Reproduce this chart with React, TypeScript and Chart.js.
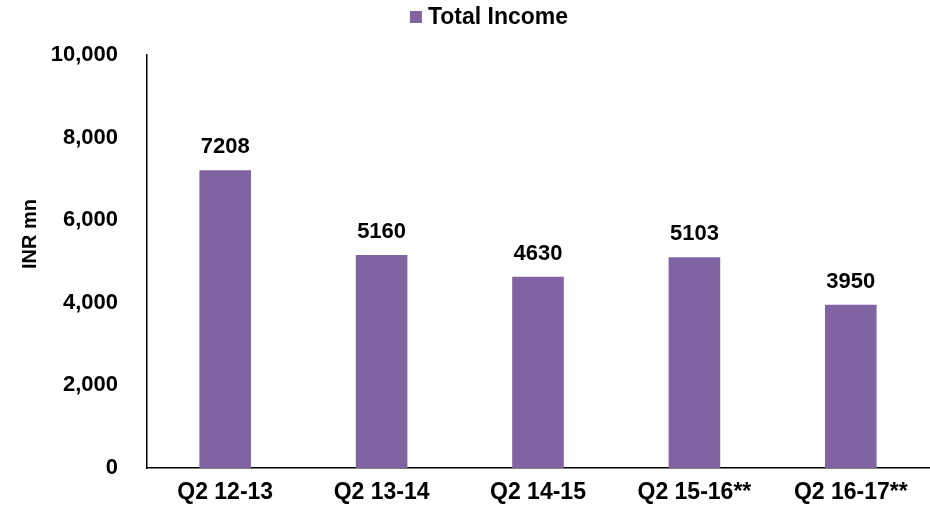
import React, { useEffect, useRef } from "react";
import { Chart, registerables } from "chart.js";

Chart.register(...registerables);

const categories = ["Q2 12-13", "Q2 13-14", "Q2 14-15", "Q2 15-16**", "Q2 16-17**"];
const totalIncome = [7208, 5160, 4630, 5103, 3950];
const seriesName = "Total Income";
const yTitle = "INR mn";
const barColor = "#8064A2";

const FONT = "'Liberation Sans', Arial, sans-serif";

const dataLabels = {
  id: "dataLabels",
  afterDatasetsDraw(chart: any) {
    const ctx = chart.ctx;
    const meta = chart.getDatasetMeta(0);
    const data = chart.data.datasets[0].data;
    ctx.save();
    ctx.font = `bold 22px ${FONT}`;
    ctx.fillStyle = "#000";
    ctx.textAlign = "center";
    ctx.textBaseline = "alphabetic";
    meta.data.forEach((bar: any, i: number) => {
      ctx.fillText(String(data[i]), bar.x, bar.y - 17);
    });
    ctx.restore();
  },
};

// legend + rotated axis title drawn by hand to match placement
const extras = {
  id: "extras",
  afterDraw(chart: any) {
    const ctx = chart.ctx;
    ctx.save();
    // legend
    ctx.font = `bold 23px ${FONT}`;
    const label = chart.data.datasets[0].label;
    const tw = ctx.measureText(label).width;
    const box = 12;
    const gap = 6;
    const total = box + gap + tw;
    const cx = chart.width / 2 + 24;
    const x0 = cx - total / 2;
    const cy = 17;
    ctx.fillStyle = chart.data.datasets[0].backgroundColor;
    ctx.fillRect(x0, cy - box / 2, box, box);
    ctx.fillStyle = "#000";
    ctx.textBaseline = "middle";
    ctx.textAlign = "left";
    ctx.fillText(label, x0 + box + gap, cy + 1);
    // y title
    ctx.font = `bold 20px ${FONT}`;
    ctx.translate(30, 234);
    ctx.rotate(-Math.PI / 2);
    ctx.textAlign = "center";
    ctx.textBaseline = "middle";
    ctx.fillText(yTitle, 0, 0);
    ctx.restore();
  },
};

export default function App() {
  const ref = useRef<HTMLCanvasElement>(null);
  useEffect(() => {
    if (!ref.current) return;
    const chart = new Chart(ref.current, {
      type: "bar",
      data: {
        labels: categories,
        datasets: [
          {
            label: seriesName,
            data: totalIncome,
            backgroundColor: barColor,
            borderWidth: 0,
            barPercentage: 0.33,
            categoryPercentage: 1,
          },
        ],
      },
      plugins: [dataLabels, extras],
      options: {
        animation: false,
        responsive: true,
        maintainAspectRatio: false,
        layout: { padding: { left: 0, right: 1, top: 55, bottom: 0 } },
        plugins: {
          legend: { display: false },
          tooltip: { enabled: false },
        },
        scales: {
          x: {
            grid: { display: false, drawTicks: false },
            border: { display: true, color: "#000", width: 1.5 },
            afterFit: (s: any) => {
              s.height = 38;
            },
            ticks: {
              font: { family: FONT, size: 23, weight: "bold" },
              color: "#000",
              padding: 11,
              maxRotation: 0,
            },
          },
          y: {
            min: 0,
            max: 10000,
            grid: { display: false, drawTicks: false },
            border: { display: true, color: "#000", width: 1.5 },
            afterFit: (s: any) => {
              s.width = 147;
              s.paddingTop = 0;
              s.paddingBottom = 0;
            },
            ticks: {
              stepSize: 2000,
              font: { family: FONT, size: 22, weight: "bold" },
              color: "#000",
              padding: 29,
              callback: (v: any) => Number(v).toLocaleString("en-US"),
            },
          },
        },
      },
    });
    return () => chart.destroy();
  }, []);
  return (
    <div style={{ position: "fixed", left: 0, top: 0, width: 930, height: 506, background: "#fff" }}>
      <canvas ref={ref} />
    </div>
  );
}
